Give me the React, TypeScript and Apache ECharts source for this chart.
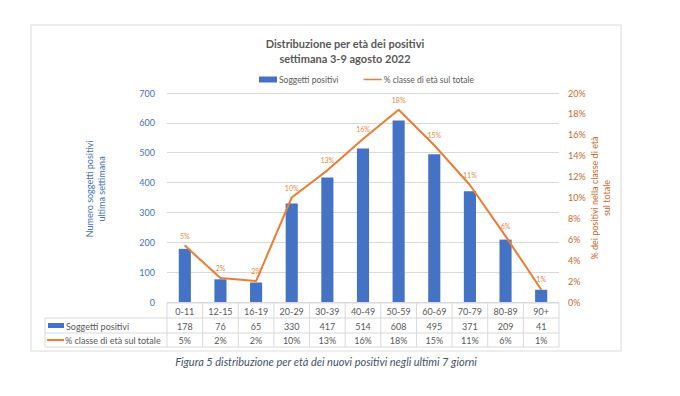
import React, { useEffect, useRef } from "react";
import * as echarts from "echarts";

const categories = ["0-11", "12-15", "16-19", "20-29", "30-39", "40-49", "50-59", "60-69", "70-79", "80-89", "90+"];
const positivi = [178, 76, 65, 330, 417, 514, 608, 495, 371, 209, 41];
const percentuale = [5.4, 2.3, 2.0, 10.0, 12.6, 15.6, 18.4, 15.0, 11.2, 6.3, 1.2];
const leftTicks = { min: 0, max: 700, interval: 100 };
const rightTicks = { min: 0, max: 20, interval: 2 };

const barName = "Soggetti positivi";
const lineName = "% classe di età sul totale";

const BLUE = "#4472C4";
const ORANGE = "#ED7D31";
const ORANGE_TXT = "#C96A2E";
const GRAY_TXT = "#595959";
const GRID = "#D9D9D9";
const FONT = "Lato, 'Noto Sans', sans-serif";

const W = 680;
const H = 396;
const GL = 167;
const GR = 559;
const GT = 93;
const GB = 302;

export default function App() {
  const ref = useRef<HTMLDivElement>(null);
  useEffect(() => {
    if (!ref.current) return;
    const chart = echarts.init(ref.current, null, { renderer: "svg" });
    const n = categories.length;
    const colW = (GR - GL) / n;
    const rowTop = 303;
    const row1 = 318;
    const row2 = 333;
    const row3 = 347;
    const tableLeft = 45;
    const graphics: any[] = [];
    graphics.push({
      type: "rect",
      shape: { x: 31, y: 25, width: 590, height: 326 },
      style: { fill: "none", stroke: "#E8E8E8", lineWidth: 1.5 },
      silent: true,
    });
    graphics.push({
      type: "text",
      x: 345,
      y: 43,
      style: {
        text: "Distribuzione per età dei positivi",
        fill: GRAY_TXT,
        font: `bold 11px ${FONT}`,
        textAlign: "center",
        textVerticalAlign: "middle",
      },
    });
    graphics.push({
      type: "text",
      x: 345,
      y: 58,
      style: {
        text: "settimana 3-9 agosto 2022",
        fill: GRAY_TXT,
        font: `bold 11px ${FONT}`,
        textAlign: "center",
        textVerticalAlign: "middle",
      },
    });
    graphics.push({
      type: "text",
      x: 95,
      y: 189,
      rotation: Math.PI / 2,
      style: {
        text: "Numero soggetti positivi\nultima settimana",
        fill: BLUE,
        font: `9px ${FONT}`,
        textAlign: "center",
        textVerticalAlign: "middle",
        lineHeight: 12,
      },
    });
    graphics.push({
      type: "text",
      x: 600,
      y: 198,
      rotation: Math.PI / 2,
      style: {
        text: "% dei positivi nella classe di età\nsul totale",
        fill: ORANGE_TXT,
        font: `9px ${FONT}`,
        textAlign: "center",
        textVerticalAlign: "middle",
        lineHeight: 12,
      },
    });
    const hline = (y: number, x1: number) =>
      graphics.push({
        type: "line",
        shape: { x1, y1: y, x2: GR, y2: y },
        style: { stroke: GRID, lineWidth: 1 },
        silent: true,
      });
    hline(rowTop, GL);
    hline(row1, tableLeft);
    hline(row2, tableLeft);
    hline(row3, tableLeft);
    graphics.push({
      type: "line",
      shape: { x1: tableLeft, y1: row1, x2: tableLeft, y2: row3 },
      style: { stroke: GRID, lineWidth: 1 },
    });
    for (let i = 0; i <= n; i++) {
      const x = GL + i * colW;
      graphics.push({
        type: "line",
        shape: { x1: x, y1: rowTop, x2: x, y2: row3 },
        style: { stroke: GRID, lineWidth: 1 },
      });
    }
    const cellText = (text: string, x: number, y: number, align = "center") =>
      graphics.push({
        type: "text",
        x,
        y,
        style: {
          text,
          fill: GRAY_TXT,
          font: `9px ${FONT}`,
          textAlign: align,
          textVerticalAlign: "middle",
        },
      });
    categories.forEach((c, i) => {
      const cx = GL + (i + 0.5) * colW;
      cellText(c, cx, (rowTop + row1) / 2 + 0.5);
      cellText(String(positivi[i]), cx, (row1 + row2) / 2 + 0.5);
      cellText(Math.round(percentuale[i]) + "%", cx, (row2 + row3) / 2 + 0.5);
    });
    graphics.push({
      type: "rect",
      shape: { x: 48, y: 323, width: 16, height: 5 },
      style: { fill: BLUE },
    });
    cellText(barName, 66, (row1 + row2) / 2 + 0.5, "left");
    graphics.push({
      type: "line",
      shape: { x1: 47, y1: 340, x2: 64, y2: 340 },
      style: { stroke: ORANGE, lineWidth: 2 },
    });
    cellText(lineName, 65, (row2 + row3) / 2 + 0.5, "left");
    graphics.push({
      type: "text",
      x: 326,
      y: 361,
      style: {
        text: "Figura 5 distribuzione per età dei nuovi positivi negli ultimi 7 giorni",
        fill: "#44546A",
        font: `italic 11px ${FONT}`,
        textAlign: "center",
        textVerticalAlign: "middle",
      },
    });

    chart.setOption({
      animation: false,
      backgroundColor: "#FFFFFF",
      textStyle: { fontFamily: FONT },
      grid: { left: GL, right: W - GR, top: GT, bottom: H - GB },
      legend: {
        left: 254,
        top: 70,
        itemGap: 25,
        itemWidth: 18,
        itemHeight: 6,
        textStyle: { fontSize: 8.5, color: GRAY_TXT, fontFamily: FONT, padding: [0, 0, 0, -3] },
        data: [
          { name: barName, icon: "rect" },
          { name: lineName, icon: "path://M0,0L0.01,0L0.01,0.01ZM0,2.2L20,2.2L20,3.8L0,3.8ZM0,6L0.01,6L0.01,5.99Z" },
        ],
      },
      xAxis: {
        type: "category",
        data: categories,
        boundaryGap: true,
        axisLine: { show: false },
        axisTick: { show: false },
        axisLabel: { show: false },
      },
      yAxis: [
        {
          type: "value",
          min: leftTicks.min,
          max: leftTicks.max,
          interval: leftTicks.interval,
          axisLabel: { color: BLUE, fontSize: 9, margin: 12, fontFamily: FONT },
          axisLine: { show: false },
          axisTick: { show: false },
          splitLine: { lineStyle: { color: GRID, width: 1 } },
        },
        {
          type: "value",
          min: rightTicks.min,
          max: rightTicks.max,
          interval: rightTicks.interval,
          position: "right",
          axisLabel: { color: ORANGE_TXT, fontSize: 9, margin: 9, formatter: "{value}%", fontFamily: FONT },
          axisLine: { show: false },
          axisTick: { show: false },
          splitLine: { show: false },
        },
      ],
      series: [
        {
          name: barName,
          type: "bar",
          data: positivi,
          barWidth: "34%",
          itemStyle: { color: BLUE },
        },
        {
          name: lineName,
          type: "line",
          yAxisIndex: 1,
          data: percentuale,
          symbol: "circle",
          symbolSize: 1,
          showSymbol: true,
          lineStyle: { color: ORANGE, width: 2 },
          itemStyle: { color: ORANGE },
          label: {
            show: true,
            position: "top",
            distance: 6,
            fontSize: 7,
            color: "#E8873F",
            fontFamily: FONT,
            formatter: (p: any) => Math.round(p.value) + "%",
          },
        },
      ],
      graphic: graphics,
    });
    return () => chart.dispose();
  }, []);
  return (
    <div style={{ position: "absolute", left: 0, top: 0, width: W, height: H, background: "#fff" }}>
      <div ref={ref} style={{ width: W, height: H }} />
    </div>
  );
}
